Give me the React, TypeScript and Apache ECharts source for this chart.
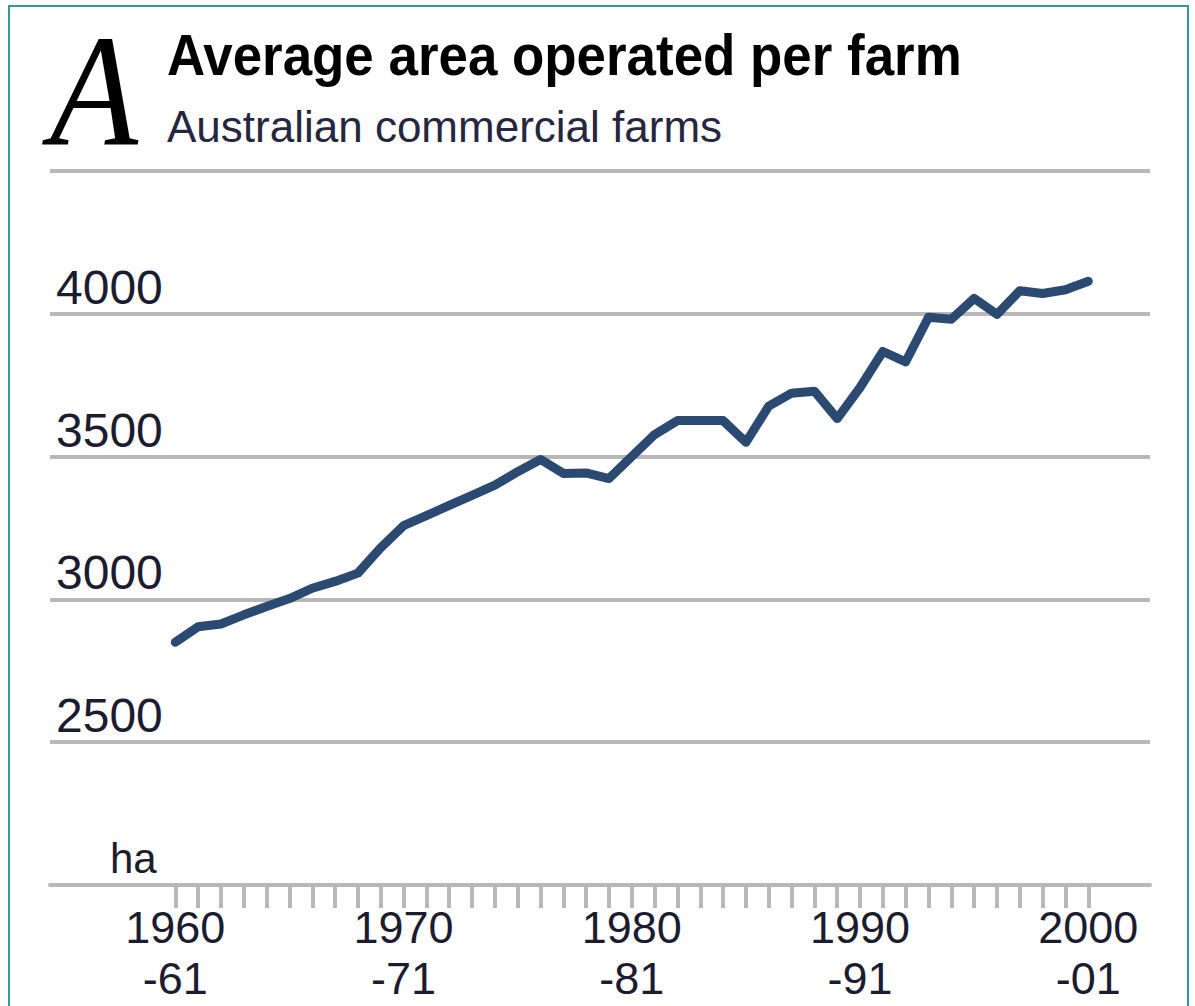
import React, { useEffect, useRef } from 'react';
import * as echarts from 'echarts';

const categories = [
  '1960-61', '1961-62', '1962-63', '1963-64', '1964-65', '1965-66', '1966-67', '1967-68', '1968-69', '1969-70',
  '1970-71', '1971-72', '1972-73', '1973-74', '1974-75', '1975-76', '1976-77', '1977-78', '1978-79', '1979-80',
  '1980-81', '1981-82', '1982-83', '1983-84', '1984-85', '1985-86', '1986-87', '1987-88', '1988-89', '1989-90',
  '1990-91', '1991-92', '1992-93', '1993-94', '1994-95', '1995-96', '1996-97', '1997-98', '1998-99', '1999-00',
  '2000-01',
];

const areaHa = [
  2850, 2904, 2914, 2946, 2975, 3003, 3039, 3063, 3092, 3181,
  3258, 3293, 3329, 3364, 3400, 3447, 3490, 3441, 3443, 3423,
  3500, 3577, 3626, 3626, 3626, 3550, 3677, 3722, 3729, 3633,
  3742, 3868, 3832, 3988, 3981, 4054, 3998, 4081, 4071, 4084,
  4114,
];

const yTickLabels = [2500, 3000, 3500, 4000];

const titleText = 'Average area operated per farm';
const subtitleText = 'Australian commercial farms';
const unitText = 'ha';

export default function App() {
  const ref = useRef<HTMLDivElement>(null);

  useEffect(() => {
    if (!ref.current) return;
    const chart = echarts.init(ref.current, null, { renderer: 'svg' });
    const grey = '#b8b8b8';
    const font = '"Liberation Sans", Arial, sans-serif';
    const labelColor = '#1c1c30';

    chart.setOption({
      animation: false,
      grid: [
        { left: 50, right: 45, top: 171, bottom: 121 },
        { left: 175.3, right: 106.7, top: 171, bottom: 121 },
      ],
      xAxis: [
        {
          gridIndex: 0,
          type: 'value',
          min: 0,
          max: 1,
          axisLine: { show: true, onZero: false, lineStyle: { color: grey, width: 4 } },
          axisTick: { show: false },
          axisLabel: { show: false },
          splitLine: { show: false },
        },
        {
          gridIndex: 1,
          type: 'category',
          data: categories,
          boundaryGap: false,
          axisLine: { show: false },
          axisTick: { show: true, interval: 0, length: 23, lineStyle: { color: grey, width: 4 } },
          axisLabel: {
            interval: 9,
            margin: 17,
            fontSize: 45,
            lineHeight: 51,
            color: labelColor,
            fontFamily: font,
            formatter: (v: string) => v.replace('-', '\n-'),
          },
          splitLine: { show: false },
        },
      ],
      yAxis: [
        {
          gridIndex: 0,
          type: 'value',
          min: 2000,
          max: 4500,
          interval: 500,
          axisLine: { show: false },
          axisTick: { show: false },
          splitLine: { show: true, lineStyle: { color: grey, width: 4 } },
          axisLabel: {
            inside: true,
            align: 'left',
            verticalAlign: 'bottom',
            lineHeight: 53,
            margin: 6,
            fontSize: 48,
            color: labelColor,
            fontFamily: font,
            formatter: (v: number) => (yTickLabels.includes(v) ? String(v) : ''),
          },
        },
        {
          gridIndex: 1,
          type: 'value',
          min: 2000,
          max: 4500,
          show: false,
          splitLine: { show: false },
        },
      ],
      series: [
        {
          type: 'line',
          xAxisIndex: 1,
          yAxisIndex: 1,
          data: areaHa,
          symbol: 'none',
          z: 5,
          lineStyle: { color: '#2b4a72', width: 9, cap: 'round', join: 'round' },
        },
      ],
      graphic: [
        {
          type: 'rect',
          shape: { x: 9, y: 6, width: 1179, height: 1100 },
          style: { fill: 'none', stroke: '#2e9b94', lineWidth: 2 },
          silent: true,
        },
        {
          type: 'text',
          x: 50,
          y: 90,
          scaleX: 0.9,
          style: {
            text: 'A',
            fontSize: 160,
            fontStyle: 'italic',
            fontFamily: '"Liberation Serif", "Times New Roman", serif',
            fill: '#000',
            align: 'left',
            verticalAlign: 'middle',
          },
        },
        {
          type: 'text',
          x: 167,
          y: 54.9,
          scaleX: 0.912,
          style: {
            text: titleText,
            fontSize: 58,
            fontWeight: 'bold',
            fontFamily: font,
            fill: '#000',
            align: 'left',
            verticalAlign: 'middle',
          },
        },
        {
          type: 'text',
          x: 167,
          y: 126.8,
          style: {
            text: subtitleText,
            fontSize: 44,
            fontFamily: font,
            fill: '#262640',
            align: 'left',
            verticalAlign: 'middle',
          },
        },
        {
          type: 'text',
          x: 110,
          y: 858.4,
          style: {
            text: unitText,
            fontSize: 42,
            fontFamily: font,
            fill: labelColor,
            align: 'left',
            verticalAlign: 'middle',
          },
        },
      ],
    });

    return () => chart.dispose();
  }, []);

  return (
    <div
      ref={ref}
      style={{ position: 'absolute', left: 0, top: 0, width: 1195, height: 1006 }}
    />
  );
}
